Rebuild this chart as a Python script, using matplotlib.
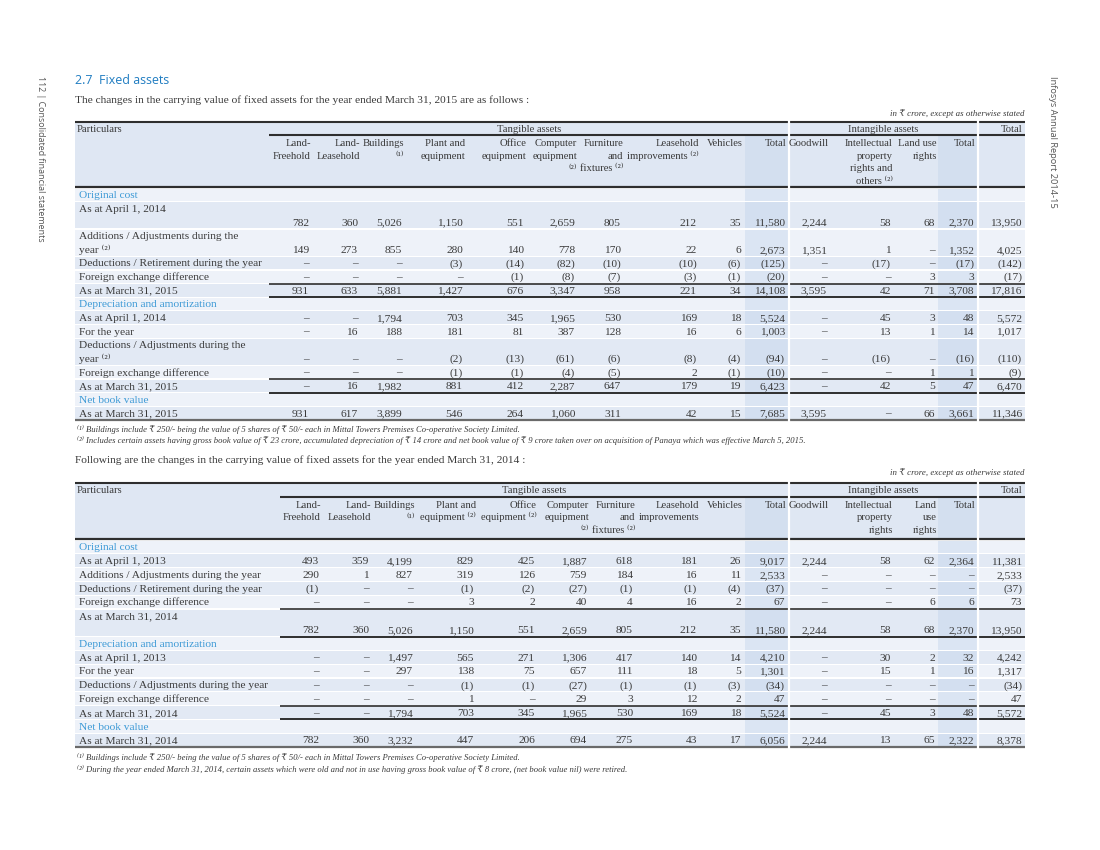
import matplotlib
matplotlib.use("Agg")
import matplotlib.pyplot as plt
from matplotlib.patches import Rectangle

SERIF = ["Liberation Serif", "DejaVu Serif"]
NUM_FONT = "Liberation Serif"
SANS = ["Open Sans", "DejaVu Sans"]

HEAD_BG = "#dfe7f3"
BAND_HEAD = "#d3dfef"
ROW_DARK = "#e2e9f4"
ROW_LIGHT = "#eef2f9"
BAND_DARK = "#d3dff0"
BAND_LIGHT = "#dbe5f3"
TEXT = "#3a3a3a"
BLUE = "#3d9ad6"
TITLE_BLUE = "#1f7cc1"
RULE = "#2e2e2e"

SUP1 = "\u207d\u00b9\u207e"
SUP2 = "\u207d\u00b2\u207e"
RS = "\u20b9"

# ---- table 1: year ended March 31, 2015 ----
T1_HEADERS = [
    ["Land-", "Freehold"], ["Land-", "Leasehold"], ["Buildings", SUP1],
    ["Plant and", "equipment"], ["Office", "equipment"],
    ["Computer", "equipment", SUP2], ["Furniture", "and", "fixtures " + SUP2],
    ["Leasehold", "improvements " + SUP2], ["Vehicles"], ["Total"], ["Goodwill"],
    ["Intellectual", "property", "rights and", "others " + SUP2],
    ["Land use", "rights"], ["Total"], [],
]
T1_COST_OPEN = [782, 360, 5026, 1150, 551, 2659, 805, 212, 35, 11580, 2244, 58, 68, 2370, 13950]
T1_COST_ADD = [149, 273, 855, 280, 140, 778, 170, 22, 6, 2673, 1351, 1, 0, 1352, 4025]
T1_COST_DED = [0, 0, 0, -3, -14, -82, -10, -10, -6, -125, 0, -17, 0, -17, -142]
T1_COST_FX = [0, 0, 0, 0, -1, -8, -7, -3, -1, -20, 0, 0, 3, 3, -17]
T1_COST_CLOSE = [931, 633, 5881, 1427, 676, 3347, 958, 221, 34, 14108, 3595, 42, 71, 3708, 17816]
T1_DEP_OPEN = [0, 0, 1794, 703, 345, 1965, 530, 169, 18, 5524, 0, 45, 3, 48, 5572]
T1_DEP_YEAR = [0, 16, 188, 181, 81, 387, 128, 16, 6, 1003, 0, 13, 1, 14, 1017]
T1_DEP_DED = [0, 0, 0, -2, -13, -61, -6, -8, -4, -94, 0, -16, 0, -16, -110]
T1_DEP_FX = [0, 0, 0, -1, -1, -4, -5, 2, -1, -10, 0, 0, 1, 1, -9]
T1_DEP_CLOSE = [0, 16, 1982, 881, 412, 2287, 647, 179, 19, 6423, 0, 42, 5, 47, 6470]
T1_NBV = [931, 617, 3899, 546, 264, 1060, 311, 42, 15, 7685, 3595, 0, 66, 3661, 11346]

T1_ROWS = [
    ("Original cost", None, False),
    ("As at April 1, 2014\n", T1_COST_OPEN, False),
    ("Additions / Adjustments during the\nyear " + SUP2, T1_COST_ADD, False),
    ("Deductions / Retirement during the year", T1_COST_DED, False),
    ("Foreign exchange difference", T1_COST_FX, False),
    ("As at March 31, 2015", T1_COST_CLOSE, True),
    ("Depreciation and amortization", None, False),
    ("As at April 1, 2014", T1_DEP_OPEN, False),
    ("For the year", T1_DEP_YEAR, False),
    ("Deductions / Adjustments during the\nyear " + SUP2, T1_DEP_DED, False),
    ("Foreign exchange difference", T1_DEP_FX, False),
    ("As at March 31, 2015", T1_DEP_CLOSE, True),
    ("Net book value", None, False),
    ("As at March 31, 2015", T1_NBV, False),
]
T1_NOTES = [
    SUP1 + " Buildings include " + RS + " 250/- being the value of 5 shares of " + RS
    + " 50/- each in Mittal Towers Premises Co-operative Society Limited.",
    SUP2 + " Includes certain assets having gross book value of " + RS + " 23 crore, accumulated depreciation of "
    + RS + " 14 crore and net book value of " + RS + " 9 crore taken over on acquisition of Panaya which was effective March 5, 2015.",
]

# ---- table 2: year ended March 31, 2014 ----
T2_HEADERS = [
    ["Land-", "Freehold"], ["Land-", "Leasehold"], ["Buildings", SUP1],
    ["Plant and", "equipment " + SUP2], ["Office", "equipment " + SUP2],
    ["Computer", "equipment", SUP2], ["Furniture", "and", "fixtures " + SUP2],
    ["Leasehold", "improvements"], ["Vehicles"], ["Total"], ["Goodwill"],
    ["Intellectual", "property", "rights"], ["Land", "use", "rights"], ["Total"], [],
]
T2_COST_OPEN = [493, 359, 4199, 829, 425, 1887, 618, 181, 26, 9017, 2244, 58, 62, 2364, 11381]
T2_COST_ADD = [290, 1, 827, 319, 126, 759, 184, 16, 11, 2533, 0, 0, 0, 0, 2533]
T2_COST_DED = [-1, 0, 0, -1, -2, -27, -1, -1, -4, -37, 0, 0, 0, 0, -37]
T2_COST_FX = [0, 0, 0, 3, 2, 40, 4, 16, 2, 67, 0, 0, 6, 6, 73]
T2_COST_CLOSE = [782, 360, 5026, 1150, 551, 2659, 805, 212, 35, 11580, 2244, 58, 68, 2370, 13950]
T2_DEP_OPEN = [0, 0, 1497, 565, 271, 1306, 417, 140, 14, 4210, 0, 30, 2, 32, 4242]
T2_DEP_YEAR = [0, 0, 297, 138, 75, 657, 111, 18, 5, 1301, 0, 15, 1, 16, 1317]
T2_DEP_DED = [0, 0, 0, -1, -1, -27, -1, -1, -3, -34, 0, 0, 0, 0, -34]
T2_DEP_FX = [0, 0, 0, 1, 0, 29, 3, 12, 2, 47, 0, 0, 0, 0, 47]
T2_DEP_CLOSE = [0, 0, 1794, 703, 345, 1965, 530, 169, 18, 5524, 0, 45, 3, 48, 5572]
T2_NBV = [782, 360, 3232, 447, 206, 694, 275, 43, 17, 6056, 2244, 13, 65, 2322, 8378]

T2_ROWS = [
    ("Original cost", None, False),
    ("As at April 1, 2013", T2_COST_OPEN, False),
    ("Additions / Adjustments during the year", T2_COST_ADD, False),
    ("Deductions / Retirement during the year", T2_COST_DED, False),
    ("Foreign exchange difference", T2_COST_FX, False),
    ("As at March 31, 2014\n", T2_COST_CLOSE, True),
    ("Depreciation and amortization", None, False),
    ("As at April 1, 2013", T2_DEP_OPEN, False),
    ("For the year", T2_DEP_YEAR, False),
    ("Deductions / Adjustments during the year", T2_DEP_DED, False),
    ("Foreign exchange difference", T2_DEP_FX, False),
    ("As at March 31, 2014", T2_DEP_CLOSE, True),
    ("Net book value", None, False),
    ("As at March 31, 2014", T2_NBV, False),
]
T2_NOTES = [
    SUP1 + " Buildings include " + RS + " 250/- being the value of 5 shares of " + RS
    + " 50/- each in Mittal Towers Premises Co-operative Society Limited.",
    SUP2 + " During the year ended March 31, 2014, certain assets which were old and not in use having gross book value of "
    + RS + " 8 crore, (net book value nil) were retired.",
]

# layout (pixel coordinates of the page)
T1_COLS = [309, 358, 402, 463, 524, 575, 621, 697, 741, 785, 827, 891, 935, 974, 1022]
T2_COLS = [319, 369, 413, 474, 535, 587, 633, 697, 741, 785, 827, 891, 935, 974, 1022]
LEFT, RIGHT = 75, 1025
SEPS = [789, 977.5]
BANDS = [(745, 788), (938, 976.5)]

FS = 8.2
FS_HEAD = 7.7
BASE = 3.4  # baseline offset below the line centre, px


def fmt(v):
    if v == 0:
        return "\u2013"
    s = f"{abs(v):,}"
    return f"({s})" if v < 0 else s


def pick_font(s):
    # plain ascii text keeps one font so that all baselines line up
    return NUM_FONT if all(ord(c) < 0x2000 and c not in "\u00b9\u00b2" for c in s) else SERIF


def draw_table(ax, top, grp_bot, head_bot, head_y, row_h, cols, tang_x, headers, rows):
    ax.add_patch(Rectangle((LEFT, top), RIGHT - LEFT, head_bot - top, color=HEAD_BG, lw=0))
    for b0, b1 in BANDS:
        ax.add_patch(Rectangle((b0, grp_bot), b1 - b0, head_bot - grp_bot, color=BAND_HEAD, lw=0))

    gy = (top + grp_bot) / 2 + BASE
    kw = dict(family=NUM_FONT, fontsize=FS_HEAD, color=TEXT, va="baseline")
    ax.text(LEFT + 2, gy, "Particulars", ha="left", **kw)
    ax.text((tang_x + SEPS[0]) / 2, gy, "Tangible assets", ha="center", **kw)
    ax.text((SEPS[0] + SEPS[1]) / 2, gy, "Intangible assets", ha="center", **kw)
    ax.text(RIGHT - 2, gy, "Total", ha="right", **kw)
    for x, lines in zip(cols, headers):
        for k, line in enumerate(lines):
            ax.text(x + 2, head_y[k] + BASE, line, ha="right", va="baseline",
                    family=pick_font(line), fontsize=FS_HEAD, color=TEXT)

    y = head_bot + 1
    for i, (label, vals, subtotal) in enumerate(rows):
        lines = label.split("\n")
        h = row_h * len(lines)
        light = i % 2 == 0
        ax.add_patch(Rectangle((LEFT, y + 0.6), RIGHT - LEFT, h - 1.2,
                               color=ROW_LIGHT if light else ROW_DARK, lw=0))
        for b0, b1 in BANDS:
            ax.add_patch(Rectangle((b0, y + 0.6), b1 - b0, h - 1.2,
                                   color=BAND_LIGHT if light else BAND_DARK, lw=0))
        for k, line in enumerate(lines):
            ax.text(LEFT + 4, y + row_h * (k + 0.5) + BASE, line, family=pick_font(line), fontsize=FS,
                    color=BLUE if vals is None else TEXT, ha="left", va="baseline")
        if vals is not None:
            vy = y + row_h * (len(lines) - 0.5) + BASE
            for x, v in zip(cols, vals):
                ax.text(x, vy, fmt(v), family=NUM_FONT, fontsize=FS, color=TEXT,
                        ha="right", va="baseline")
        if subtotal:
            ax.plot([tang_x, RIGHT], [y, y], color=RULE, lw=1.2, solid_capstyle="butt")
            ax.plot([tang_x, RIGHT], [y + h, y + h], color=RULE, lw=1.4, solid_capstyle="butt")
        y += h
    bottom = y

    ax.plot([LEFT, RIGHT], [top, top], color=RULE, lw=1.5, solid_capstyle="butt")
    ax.plot([tang_x, RIGHT], [grp_bot, grp_bot], color=RULE, lw=1.5, solid_capstyle="butt")
    ax.plot([LEFT, RIGHT], [head_bot, head_bot], color=RULE, lw=1.6, solid_capstyle="butt")
    ax.plot([LEFT, RIGHT], [bottom, bottom], color="#6a6a6a", lw=1.6, solid_capstyle="butt")
    for sx in SEPS:
        ax.plot([sx, sx], [top - 1.5, bottom + 1.5], color="white", lw=1.6)
    return bottom


def main():
    fig = plt.figure(figsize=(11, 8.5), dpi=100)
    ax = fig.add_axes([0, 0, 1, 1])
    ax.set_xlim(0, 1100)
    ax.set_ylim(850, 0)
    ax.axis("off")

    ax.text(40, 76, "112 | Consolidated financial statements", family=SANS, fontsize=6.4,
            color="#555555", rotation=-90, ha="center", va="top")
    ax.text(1052, 76, "Infosys Annual Report 2014-15", family=SANS, fontsize=6.7,
            color="#555555", rotation=-90, ha="center", va="top")

    ax.text(75, 80 + 4, "2.7  Fixed assets", family=SANS, fontsize=8.9, color=TITLE_BLUE,
            ha="left", va="baseline")
    ax.text(75, 100 + BASE, "The changes in the carrying value of fixed assets for the year ended March 31, 2015 are as follows :",
            family=NUM_FONT, fontsize=FS, color=TEXT, ha="left", va="baseline")
    ax.text(RIGHT, 113 + 2.5, "in " + RS + " crore, except as otherwise stated", family=SERIF, style="italic",
            fontsize=6.4, color=TEXT, ha="right", va="baseline")

    draw_table(ax, 122, 135, 187, [143, 155.5, 168, 180.5], 13.65, T1_COLS, 269,
               T1_HEADERS, T1_ROWS)
    for k, note in enumerate(T1_NOTES):
        ax.text(77, 429 + 11 * k + 2.5, note, family=SERIF, style="italic", fontsize=6.2,
                color=TEXT, ha="left", va="baseline")

    ax.text(75, 460 + BASE, "Following are the changes in the carrying value of fixed assets for the year ended March 31, 2014 :",
            family=NUM_FONT, fontsize=FS, color=TEXT, ha="left", va="baseline")
    ax.text(RIGHT, 472 + 2.5, "in " + RS + " crore, except as otherwise stated", family=SERIF, style="italic",
            fontsize=6.4, color=TEXT, ha="right", va="baseline")

    draw_table(ax, 483, 496.5, 539, [504.5, 517, 529.5], 13.8, T2_COLS, 280,
               T2_HEADERS, T2_ROWS)
    for k, note in enumerate(T2_NOTES):
        ax.text(77, 757 + 12 * k + 2.5, note, family=SERIF, style="italic", fontsize=6.2,
                color=TEXT, ha="left", va="baseline")

    fig.savefig("out.png", dpi=100, facecolor="white")
    plt.close(fig)


if __name__ == "__main__":
    main()
